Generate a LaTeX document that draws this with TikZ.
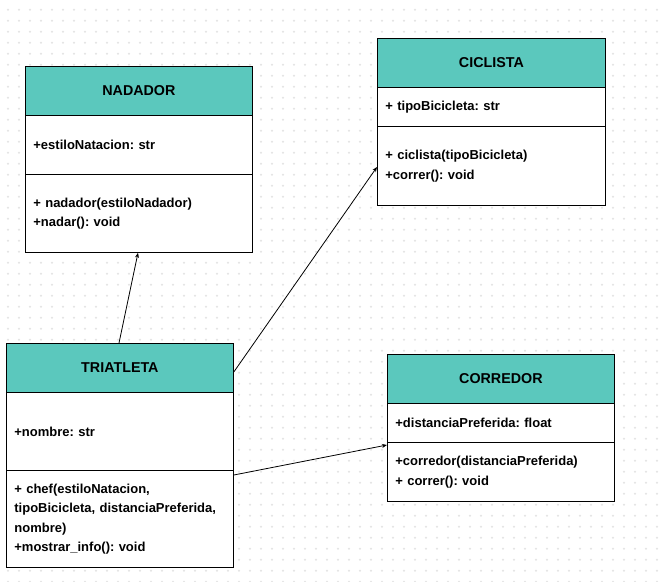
\documentclass[tikz,border=0pt]{standalone}
\usepackage{fontspec}
\setmainfont{Liberation Sans}
\usetikzlibrary{arrows.meta}
\definecolor{umlteal}{RGB}{91,200,189}
\frenchspacing

\begin{document}
\begin{tikzpicture}[x=1pt,y=-1pt,
  every node/.style={font=\fontsize{13}{19.5}\selectfont\bfseries},
  head/.style={draw=black,line width=0.8pt,fill=umlteal,anchor=north west,
    minimum height=49pt,font=\fontsize{14.3}{16}\selectfont\bfseries},
  part/.style={draw=black,line width=0.8pt,fill=white,anchor=north west,
    align=left,inner xsep=8pt},
  arr/.style={-{Stealth[length=5pt,width=4pt]},line width=0.8pt}]
  \useasboundingbox (0,0) rectangle (660,581);
  \fill[white] (0,0) rectangle (660,581);
  \foreach \i in {0,...,59}
    \foreach \j in {0,...,52}
      \fill[gray!22] (8+11*\i,9.7+11*\j) circle (1.1);
  \node[head,minimum width=227pt] (nadHead) at (25,66) {NADADOR};
  \node[part,minimum height=59pt,text width=211pt] (nadAttr) at (25,115) {+estiloNatacion: str};
  \node[part,minimum height=78pt,text width=211pt] (nadMeth) at (25,174) {+ nadador(estiloNadador)\\+nadar(): void};
  \node[head,minimum width=228pt] (cicHead) at (377,38) {CICLISTA};
  \node[part,minimum height=39pt,text width=212pt] (cicAttr) at (377,87) {+ tipoBicicleta: str};
  \node[part,minimum height=79pt,text width=212pt] (cicMeth) at (377,126) {+ ciclista(tipoBicicleta)\\+correr(): void};
  \node[head,minimum width=227pt] (triHead) at (6,343) {TRIATLETA};
  \node[part,minimum height=78pt,text width=211pt] (triAttr) at (6,392) {+nombre: str};
  \node[part,minimum height=97pt,text width=211pt] (triMeth) at (6,470) {+ chef(estiloNatacion,\\tipoBicicleta, distanciaPreferida,\\nombre)\\+mostrar\_info(): void};
  \node[head,minimum width=227pt] (corHead) at (387,354) {CORREDOR};
  \node[part,minimum height=39pt,text width=211pt] (corAttr) at (387,403) {+distanciaPreferida: float};
  \node[part,minimum height=59pt,text width=211pt] (corMeth) at (387,442) {+corredor(distanciaPreferida)\\+ correr(): void};
  \draw[arr] ([xshift=113pt]triHead.north west) -- ([xshift=113pt]nadMeth.south west);
  \draw[arr] ([yshift=-29pt]triHead.north east) -- ([yshift=-41pt]cicMeth.north west);
  \draw[arr] ([yshift=-5pt]triMeth.north east) -- ([yshift=-3pt]corMeth.north west);
\end{tikzpicture}
\end{document}
